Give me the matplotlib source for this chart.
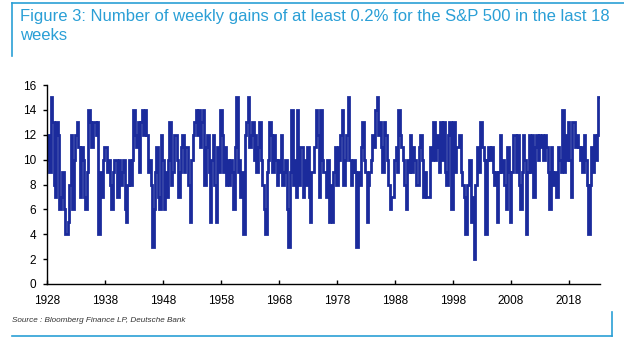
import numpy as np
import matplotlib
matplotlib.use("Agg")
import matplotlib.pyplot as plt
from matplotlib.lines import Line2D

# ---- data (quarterly readings of the weekly series) ----
start_year = 1928
step = 0.25
values = [
    10, 12, 9, 15, 13, 8, 7, 13, 12, 6, 7, 9, 6, 4, 4, 5, 8, 12, 6, 10,      # 1928-1932
    12, 13, 11, 7, 11, 10, 7, 6, 9, 14, 13, 11, 13, 13, 12, 13, 4, 9, 7, 10,  # 1933-1937
    11, 11, 9, 10, 8, 6, 9, 10, 10, 7, 10, 8, 9, 10, 6, 5, 8, 10, 8, 10,     # 1938-1942
    14, 12, 11, 13, 9, 13, 14, 12, 14, 12, 9, 10, 8, 3, 6, 9, 11, 7, 6, 12,  # 1943-1947
    10, 6, 9, 7, 10, 13, 8, 9, 12, 12, 10, 7, 9, 11, 12, 9, 11, 11, 8, 5,    # 1948-1952
    10, 12, 13, 14, 12, 14, 11, 13, 14, 8, 11, 12, 9, 5, 10, 12, 8, 5, 11, 9,  # 1953-1957
    14, 12, 9, 11, 8, 10, 8, 10, 9, 6, 11, 15, 9, 10, 7, 9, 4, 12, 13, 15,   # 1958-1962
    11, 12, 13, 10, 12, 9, 11, 13, 10, 8, 6, 4, 9, 10, 13, 12, 9, 12, 10, 8,  # 1963-1967
    10, 9, 12, 8, 9, 10, 6, 3, 9, 14, 8, 10, 7, 14, 8, 11, 11, 7, 10, 8,     # 1968-1972
    11, 7, 5, 9, 9, 11, 14, 12, 7, 14, 10, 9, 9, 7, 10, 5, 8, 5, 9, 11,      # 1973-1977
    8, 11, 10, 12, 14, 8, 10, 12, 15, 10, 8, 9, 10, 9, 3, 9, 8, 11, 13, 10,  # 1978-1982
    9, 5, 8, 9, 10, 12, 11, 14, 15, 12, 13, 11, 9, 13, 12, 10, 8, 6, 7, 7,   # 1983-1987
    10, 11, 9, 14, 12, 11, 10, 8, 6, 10, 9, 12, 9, 11, 10, 8, 8, 11, 12, 10,  # 1988-1992
    7, 9, 7, 7, 7, 11, 10, 13, 10, 12, 11, 9, 13, 10, 13, 9, 8, 12, 13, 6,   # 1993-1997
    6, 13, 9, 11, 11, 12, 9, 8, 7, 4, 8, 8, 10, 5, 7, 2, 8, 11, 9, 13,       # 1998-2002
    13, 11, 10, 4, 10, 11, 10, 11, 9, 8, 9, 5, 9, 12, 9, 10, 8, 6, 11, 9,    # 2003-2007
    5, 9, 12, 12, 9, 12, 8, 6, 9, 12, 10, 4, 9, 12, 9, 12, 7, 11, 12, 10,    # 2008-2012
    12, 11, 12, 10, 12, 11, 9, 6, 11, 9, 8, 9, 7, 11, 10, 9, 14, 9, 12, 10,  # 2013-2017
    13, 10, 7, 13, 13, 11, 12, 11, 10, 11, 9, 12, 10, 8, 4, 8, 11, 9, 12, 10,  # 2018-2022
    12, 15,                                                                  # 2023
]
x_ticks = [1928, 1938, 1948, 1958, 1968, 1978, 1988, 1998, 2008, 2018]
y_ticks = [0, 2, 4, 6, 8, 10, 12, 14, 16]

title = "Figure 3: Number of weekly gains of at least 0.2% for the S&P 500 in the last 18\nweeks"
source = "Source : Bloomberg Finance LP, Deutsche Bank"

# ---- figure ----
W, H = 624, 344
fig = plt.figure(figsize=(W / 100, H / 100), dpi=100)
plt.rcParams['font.family'] = ['Liberation Sans', 'DejaVu Sans']

accent = '#2a9fd6'
line_col = '#1b2b9c'

ax_l, ax_r, ax_t, ax_b = 47, 600, 85, 284
ax = fig.add_axes([ax_l / W, 1 - ax_b / H, (ax_r - ax_l) / W, (ax_b - ax_t) / H])

x = start_year + np.arange(len(values)) * step
ax.plot(x, values, color=line_col, lw=2.0, drawstyle='steps-mid',
        solid_joinstyle='miter')

ax.set_xlim(1928, 2023.4)
ax.set_ylim(0, 16)
ax.set_xticks(x_ticks)
ax.set_xticklabels([str(t) for t in x_ticks])
ax.set_yticks(y_ticks)
for s in ['top', 'right']:
    ax.spines[s].set_visible(False)
for s in ['left', 'bottom']:
    ax.spines[s].set_color('black')
    ax.spines[s].set_linewidth(1.0)
ax.tick_params(axis='x', direction='in', length=3, width=1, labelsize=8.5, pad=8, colors='black')
ax.tick_params(axis='y', direction='out', length=3, width=1, labelsize=8.5, pad=5, colors='black')
ax.patch.set_alpha(0)

# ---- title and frame decorations ----
fig.text(20 / W, 1 - 9 / H, title, ha='left', va='top', fontsize=12,
         color=accent, linespacing=1.3)
fig.add_artist(Line2D([12 / W, 1.0], [1 - 3 / H, 1 - 3 / H], color=accent, lw=1.2,
                      transform=fig.transFigure))
fig.add_artist(Line2D([12 / W, 12 / W], [1 - 3 / H, 1 - 56 / H], color=accent, lw=1.2,
                      transform=fig.transFigure))

fig.text(12 / W, 1 - 321 / H, source, ha='left', va='center', fontsize=5.9,
         style='italic', color='#333333')
fig.add_artist(Line2D([12 / W, 612 / W], [1 - 336 / H, 1 - 336 / H], color=accent, lw=1.2,
                      transform=fig.transFigure))
fig.add_artist(Line2D([612 / W, 612 / W], [1 - 336 / H, 1 - 312 / H], color=accent, lw=1.2,
                      transform=fig.transFigure))

fig.savefig('out.png', dpi=100)
